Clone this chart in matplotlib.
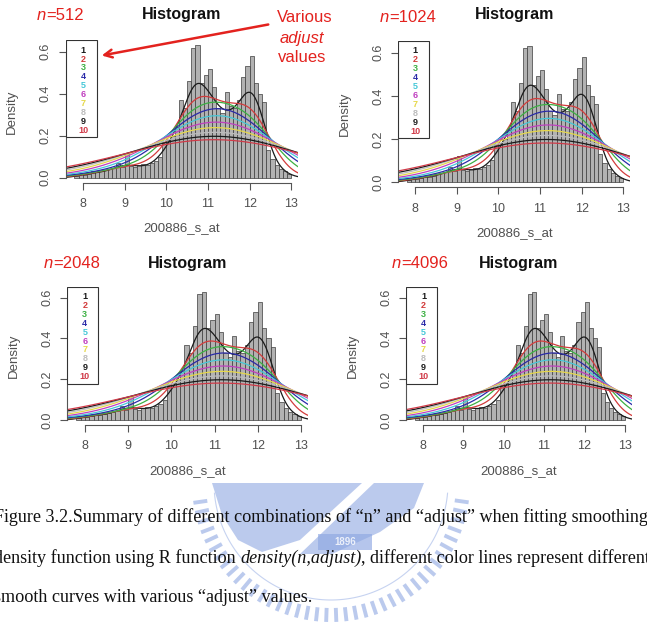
import numpy as np
import matplotlib
matplotlib.use("Agg")
import matplotlib.pyplot as plt

W, H = 647, 628

# histogram (bins of 0.1 starting at 7.8)
bin_left = 7.8
bin_width = 0.1
hist_density = [0.01, 0.02, 0.015, 0.02, 0.03, 0.025, 0.03, 0.035, 0.04, 0.045,
                0.07, 0.05, 0.12, 0.055, 0.05, 0.06, 0.065, 0.06, 0.07, 0.08,
                0.10, 0.17, 0.18, 0.20, 0.24, 0.37, 0.33, 0.46, 0.62, 0.63,
                0.45, 0.49, 0.52, 0.43, 0.33, 0.31, 0.41, 0.34, 0.33, 0.37,
                0.48, 0.53, 0.58, 0.45, 0.40, 0.36, 0.13, 0.09, 0.06, 0.04,
                0.03, 0.02]
adjust = [1, 2, 3, 4, 5, 6, 7, 8, 9, 10]
bw_base = 0.2
n_points = [512, 1024, 2048, 4096]
curve_colors = ["#1a1a1a", "#d23c3c", "#3cb043", "#2a2aa8", "#45c8d8",
                "#c040c0", "#e6d84a", "#bcbcbc", "#1a1a1a", "#d03a48"]
xticks = [8, 9, 10, 11, 12, 13]
yticks = [0.0, 0.2, 0.4, 0.6]

caption = [
    [("Figure 3.2.Summary of different combinations of \u201cn\u201d and \u201cadjust\u201d when fitting smoothing", "normal")],
    [("density function using R function ", "normal"), ("density(n,adjust)", "italic"),
     (", different color lines represent different", "normal")],
    [("smooth curves with various \u201cadjust\u201d values.", "normal")],
]

plt.rcParams["font.family"] = ["Liberation Sans", "DejaVu Sans"]

centers = bin_left + bin_width * (np.arange(len(hist_density)) + 0.5)
heights = np.array(hist_density)
weights = heights / heights.sum()


def density_curve(n, bw):
    grid = np.linspace(centers[0] - 3 * bw, centers[-1] + 3 * bw, n)
    s = np.sqrt(bw ** 2 + bin_width ** 2 / 12)
    z = (grid[None, :] - centers[:, None]) / s
    d = (weights[:, None] * np.exp(-0.5 * z ** 2)).sum(0) / (s * np.sqrt(2 * np.pi))
    return grid, d


fig = plt.figure(figsize=(W / 100, H / 100), dpi=100)
renderer = fig.canvas.get_renderer()


def fx(x):
    return x / W


def fy(y):
    return 1 - y / H


def text_width(s, **kw):
    a = fig.text(0, 0, "|" + s + "|", **kw)
    b = fig.text(0, 0, "||", **kw)
    w = a.get_window_extent(renderer).width - b.get_window_extent(renderer).width
    a.remove()
    b.remove()
    return w


def rich_text(x, y, parts, center=False, **kw):
    widths = [text_width(s, style=st, **kw) for s, st in parts]
    if center:
        x = x - sum(widths) / 2
    for (s, st), w in zip(parts, widths):
        fig.text(fx(x), fy(y), s, style=st, ha="left", va="center", **kw)
        x += w


# watermark (faint school emblem behind the caption)
wax = fig.add_axes([0, 0, 1, 1], zorder=-5)
wax.set_xlim(0, W)
wax.set_ylim(H, 0)
wax.axis("off")
blue = "#8ea7e2"
cx, cy = 331, 483
for ang in np.arange(8, 172, 4.2):
    t = np.radians(ang)
    wax.plot([cx + 125 * np.cos(t), cx + 139 * np.cos(t)],
             [cy + 125 * np.sin(t), cy + 139 * np.sin(t)],
             color=blue, lw=2.8, alpha=0.6, solid_capstyle="butt")
tt = np.radians(np.linspace(5, 175, 100))
wax.plot(cx + 117 * np.cos(tt), cy + 117 * np.sin(tt), color=blue, lw=0.8, alpha=0.5)
wax.fill([212, 362, 300, 262, 238, 222], [483, 483, 540, 552, 540, 515],
         color=blue, alpha=0.6, lw=0)
wax.fill([374, 424, 414, 380, 332, 300], [483, 483, 508, 532, 554, 554],
         color=blue, alpha=0.6, lw=0)
wax.fill([318, 372, 372, 318], [534, 534, 550, 550], color=blue, alpha=0.65, lw=0)
wax.text(345, 542, "1896", color="white", ha="center", va="center",
         fontsize=7, fontweight="bold", alpha=0.8)

# panel boxes in pixels: left, top, right, bottom
boxes = [(65.7, 40.2, 298.4, 183.0), (397.9, 40.9, 630.4, 187.4),
         (67.3, 286.5, 308.3, 425.1), (406.1, 286.5, 631.9, 425.1)]
n_label_pos = [(60, 15), (408, 17), (72, 263), (420, 263)]
title_y = [15, 15, 263, 263]

red = "#e3221e"
grey_txt = "#505050"

for k, (l, t, r, b) in enumerate(boxes):
    ax = fig.add_axes([fx(l), fy(b), (r - l) / W, (b - t) / H])
    ax.set_facecolor("none")
    ax.bar(centers, heights, width=bin_width, color="#b2b2b2",
           edgecolor="#3c3c3c", linewidth=0.5)
    for a, c in zip(adjust, curve_colors):
        gx, gd = density_curve(n_points[k], bw_base * a)
        ax.plot(gx, gd, color=c, lw=0.9)
    ax.set_xlim(7.59, 13.17)
    ax.set_ylim(-0.0252, 0.655)
    for side in ["top", "right"]:
        ax.spines[side].set_visible(False)
    ax.spines["left"].set_bounds(0, 0.6)
    ax.spines["bottom"].set_bounds(8, 13)
    for side in ["left", "bottom"]:
        ax.spines[side].set_color("#555555")
        ax.spines[side].set_linewidth(0.8)
    ax.set_xticks(xticks)
    ax.set_yticks(yticks)
    ax.set_yticklabels(["%.1f" % v for v in yticks])
    ax.tick_params(direction="out", length=5, width=0.8, colors="#555555",
                   labelsize=9, labelcolor=grey_txt)
    ax.tick_params(axis="x", pad=6)
    ax.tick_params(axis="y", pad=5, labelrotation=90)
    for lb in ax.get_yticklabels():
        lb.set_va("center")
    wpx, hpx = r - l, b - t
    ax.set_xlabel("200886_s_at", fontsize=9.5, color=grey_txt)
    ax.xaxis.set_label_coords(0.5, -45.5 / hpx)
    ax.xaxis.label.set_va("center")
    ax.set_ylabel("Density", fontsize=9.5, color=grey_txt)
    ax.yaxis.set_label_coords(-53.5 / wpx, 0.5)
    ax.yaxis.label.set_va("center")

    # legend box with coloured labels 1..10
    ax.add_patch(plt.Rectangle((0, 1 - 97 / hpx), 31 / wpx, 97 / hpx,
                               transform=ax.transAxes, fill=True, fc="white",
                               ec="#333333", lw=0.8, zorder=5))
    for i, (a, c) in enumerate(zip(adjust, curve_colors)):
        ax.text(17.5 / wpx, 1 - (10 + 8.9 * i) / hpx, str(a), color=c,
                transform=ax.transAxes, ha="center", va="center",
                fontsize=6.5, fontweight="bold", zorder=6)

    cxp = (l + r) / 2
    fig.text(fx(cxp), fy(title_y[k]), "Histogram", ha="center", va="center",
             fontsize=11.5, fontweight="bold", color="#111111")
    nx, ny = n_label_pos[k]
    rich_text(nx, ny, [("n", "italic"), ("=%d" % n_points[k], "normal")],
              center=True, fontsize=12, color=red)

# annotation of the legend
rich_text(277, 18, [("Various", "normal")], fontsize=12, color=red)
rich_text(280, 38, [("adjust", "italic")], fontsize=12, color=red)
rich_text(278, 57, [("values", "normal")], fontsize=12, color=red)
fig.axes[1].annotate("", xy=(fx(99), fy(56)), xycoords="figure fraction",
                     xytext=(fx(271), fy(24)), textcoords="figure fraction",
                     arrowprops=dict(arrowstyle="->", color=red, lw=1.8,
                                     mutation_scale=14),
                     annotation_clip=False)

# caption
cap_y = [517, 558, 598]
for parts, y in zip(caption, cap_y):
    rich_text(-6, y, parts, fontsize=13.1, color="#111111",
              family=["Liberation Serif", "DejaVu Serif"])

fig.savefig("out.png", dpi=100)
